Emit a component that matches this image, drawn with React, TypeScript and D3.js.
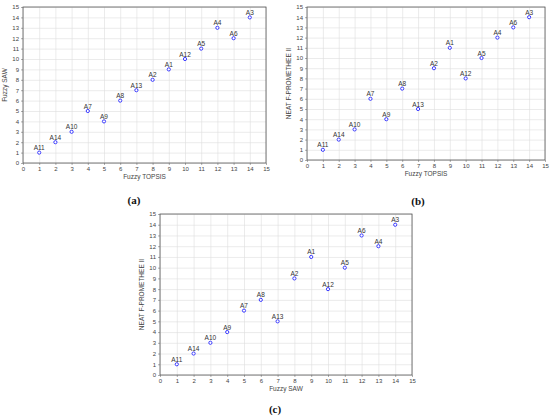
import React, { useEffect, useRef } from 'react';
import * as d3 from 'd3';

const alternatives = ['A1', 'A2', 'A3', 'A4', 'A5', 'A6', 'A7', 'A8', 'A9', 'A10', 'A11', 'A12', 'A13', 'A14'];
const fuzzyTopsis = [9, 8, 14, 12, 11, 13, 4, 6, 5, 3, 1, 10, 7, 2];
const fuzzySaw = [9, 8, 14, 13, 11, 12, 5, 6, 4, 3, 1, 10, 7, 2];
const neatPromethee = [11, 9, 14, 12, 10, 13, 6, 7, 4, 3, 1, 8, 5, 2];
const axisTicks = [0, 1, 2, 3, 4, 5, 6, 7, 8, 9, 10, 11, 12, 13, 14, 15];

type Box = { left: number; right: number; top: number; bottom: number };

const panels = [
  { xs: fuzzyTopsis, ys: fuzzySaw, xLabel: 'Fuzzy TOPSIS', yLabel: 'Fuzzy SAW', caption: '(a)',
    box: { left: 23, right: 266, top: 7, bottom: 163 }, capX: 134, capY: 204 },
  { xs: fuzzyTopsis, ys: neatPromethee, xLabel: 'Fuzzy TOPSIS', yLabel: 'NEAT F-PROMETHEE II', caption: '(b)',
    box: { left: 307, right: 545, top: 7, bottom: 160 }, capX: 418, capY: 205 },
  { xs: fuzzySaw, ys: neatPromethee, xLabel: 'Fuzzy SAW', yLabel: 'NEAT F-PROMETHEE II', caption: '(c)',
    box: { left: 160, right: 412, top: 214, bottom: 375 }, capX: 275, capY: 413 },
];

const App = () => {
  const ref = useRef<SVGSVGElement>(null);

  useEffect(() => {
    const svg = d3.select(ref.current);
    svg.selectAll('*').remove();

    panels.forEach(p => {
      const b: Box = p.box;
      const x = d3.scaleLinear().domain([0, 15]).range([b.left, b.right]);
      const y = d3.scaleLinear().domain([0, 15]).range([b.bottom, b.top]);
      const g = svg.append('g');

      // grid
      g.append('g')
        .attr('transform', `translate(0,${b.bottom})`)
        .call(d3.axisBottom(x).tickValues(axisTicks).tickSize(-(b.bottom - b.top)).tickFormat(() => ''))
        .call(s => s.select('.domain').remove())
        .selectAll('line').attr('stroke', '#dedede').attr('stroke-width', 0.6);
      g.append('g')
        .attr('transform', `translate(${b.left},0)`)
        .call(d3.axisLeft(y).tickValues(axisTicks).tickSize(-(b.right - b.left)).tickFormat(() => ''))
        .call(s => s.select('.domain').remove())
        .selectAll('line').attr('stroke', '#dedede').attr('stroke-width', 0.6);

      // axes with small outward ticks
      const xa = g.append('g')
        .attr('transform', `translate(0,${b.bottom})`)
        .call(d3.axisBottom(x).tickValues(axisTicks).tickSize(2).tickPadding(2).tickSizeOuter(0));
      const ya = g.append('g')
        .attr('transform', `translate(${b.left},0)`)
        .call(d3.axisLeft(y).tickValues(axisTicks).tickSize(2).tickPadding(2).tickSizeOuter(0));
      [xa, ya].forEach(a => {
        a.select('.domain').remove();
        a.selectAll('line').attr('stroke', '#777').attr('stroke-width', 0.6);
        a.selectAll('text').attr('fill', '#444').style('font-size', '6px').style('font-family', 'Arial, Liberation Sans, sans-serif');
      });

      // frame
      g.append('rect')
        .attr('x', b.left).attr('y', b.top)
        .attr('width', b.right - b.left).attr('height', b.bottom - b.top)
        .attr('fill', 'none').attr('stroke', '#555').attr('stroke-width', 0.8);

      // axis titles
      g.append('text')
        .attr('x', (b.left + b.right) / 2).attr('y', b.bottom + 16)
        .attr('text-anchor', 'middle')
        .attr('fill', '#444')
        .style('font-size', '6.5px').style('font-family', 'Arial, Liberation Sans, sans-serif')
        .text(p.xLabel);
      g.append('text')
        .attr('transform', `translate(${b.left - 16},${(b.top + b.bottom) / 2}) rotate(-90)`)
        .attr('text-anchor', 'middle')
        .attr('fill', '#444')
        .style('font-size', '6.5px').style('font-family', 'Arial, Liberation Sans, sans-serif')
        .text(p.yLabel);

      // points
      const pts = g.selectAll('g.pt')
        .data(alternatives.map((name, i) => ({ name, xv: p.xs[i], yv: p.ys[i] })))
        .enter().append('g');
      pts.append('circle')
        .attr('cx', d => x(d.xv)).attr('cy', d => y(d.yv)).attr('r', 1.6)
        .attr('fill', '#fff').attr('stroke', '#3b3bff').attr('stroke-width', 1);
      pts.append('text')
        .attr('x', d => x(d.xv)).attr('y', d => y(d.yv) - 2.5)
        .attr('text-anchor', 'middle')
        .attr('fill', '#333')
        .style('font-size', '6.5px').style('font-family', 'Arial, Liberation Sans, sans-serif')
        .text(d => d.name);

      // caption
      svg.append('text')
        .attr('x', p.capX).attr('y', p.capY)
        .attr('text-anchor', 'middle')
        .attr('fill', '#111')
        .style('font-size', '11px').style('font-weight', 'bold')
        .style('font-family', 'Liberation Serif, serif')
        .text(p.caption);
    });
  }, []);

  return (
    <svg ref={ref} width={550} height={419}
      style={{ position: 'absolute', left: 0, top: 0, background: '#fff' }} />
  );
};

export default App;
